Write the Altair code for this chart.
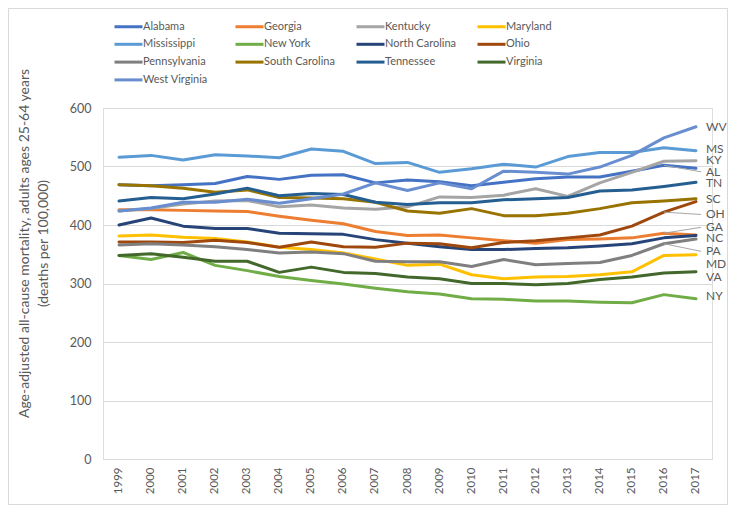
import altair as alt
import pandas as pd

years = list(range(1999, 2018))

states = ["Alabama", "Georgia", "Kentucky", "Maryland", "Mississippi", "New York",
          "North Carolina", "Ohio", "Pennsylvania", "South Carolina", "Tennessee",
          "Virginia", "West Virginia"]
abbrs = ["AL", "GA", "KY", "MD", "MS", "NY", "NC", "OH", "PA", "SC", "TN", "VA", "WV"]
colors = ["#4472C4", "#ED7D31", "#A5A5A5", "#FFC000", "#5B9BD5", "#70AD47",
          "#264478", "#9E480E", "#7F7F7F", "#997300", "#255E91", "#43682B", "#698ED0"]

alabama = [469, 467, 469, 471, 483, 478, 485, 486, 472, 477, 474, 467, 473, 479, 482, 482, 492, 502, 497]
georgia = [426, 426, 425, 424, 423, 415, 408, 402, 389, 382, 383, 378, 373, 369, 375, 376, 378, 386, 383]
kentucky = [424, 428, 436, 441, 442, 431, 434, 429, 427, 431, 448, 447, 451, 462, 449, 472, 490, 509, 510]
maryland = [381, 383, 379, 377, 371, 362, 358, 352, 342, 331, 333, 315, 308, 311, 312, 315, 320, 348, 349]
mississippi = [516, 519, 511, 520, 518, 515, 530, 526, 505, 507, 490, 496, 504, 499, 517, 524, 524, 532, 527]
new_york = [348, 341, 353, 331, 322, 312, 305, 299, 292, 286, 282, 274, 273, 270, 270, 268, 267, 281, 274]
north_carolina = [400, 412, 398, 394, 394, 386, 385, 384, 375, 369, 363, 358, 358, 360, 361, 364, 368, 378, 382]
ohio = [371, 371, 370, 374, 370, 362, 371, 363, 362, 369, 368, 361, 370, 373, 378, 383, 398, 422, 440]
pennsylvania = [366, 368, 366, 363, 358, 352, 354, 351, 338, 337, 337, 329, 341, 332, 334, 336, 348, 368, 376]
south_carolina = [469, 467, 463, 456, 460, 447, 446, 445, 439, 424, 420, 428, 416, 416, 420, 428, 438, 441, 445]
tennessee = [441, 447, 445, 453, 463, 450, 454, 452, 439, 435, 438, 438, 443, 445, 447, 458, 460, 466, 473]
virginia = [348, 351, 345, 338, 338, 319, 328, 319, 317, 311, 308, 300, 300, 298, 300, 307, 311, 318, 320]
west_virginia = [424, 429, 439, 439, 444, 437, 445, 453, 472, 459, 472, 462, 492, 490, 487, 499, 519, 549, 568]

series = [alabama, georgia, kentucky, maryland, mississippi, new_york, north_carolina,
          ohio, pennsylvania, south_carolina, tennessee, virginia, west_virginia]

# end-label positions (value units), as placed in the original
label_pos = [491, 396, 511, 334, 530, 278, 377, 418, 355, 444, 471, 311, 568]
# series whose end label has a leader line
leader_states = ["Alabama", "Georgia", "Ohio", "Pennsylvania"]

rows = []
for s, vals in zip(states, series):
    for yr, v in zip(years, vals):
        rows.append({"state": s, "year": yr, "value": v})
df = pd.DataFrame(rows)

lab_df = pd.DataFrame({"state": states, "abbr": abbrs, "pos": label_pos,
                       "year": [years[-1]] * len(states)})

lead_rows = []
for s in leader_states:
    i = states.index(s)
    lead_rows.append({"state": s, "x1": years[-2], "x2": years[-1],
                      "y1": series[i][-2], "y2": label_pos[i]})
lead_df = pd.DataFrame(lead_rows)

W, H = 609, 351
TXT = "#595959"

x_enc = alt.X("year:O", title=None,
              axis=alt.Axis(labelAngle=270, labelFontSize=11.5, labelColor=TXT,
                            ticks=False, labelPadding=8, domainColor="#D9D9D9",
                            grid=False))
y_enc = alt.Y("value:Q", scale=alt.Scale(domain=[0, 600]),
              axis=alt.Axis(values=[0, 100, 200, 300, 400, 500, 600],
                            title=["Age-adjusted all-cause mortality, adults ages 25-64 years",
                                   "(deaths per 100,000)"],
                            titleFontSize=14, titleColor=TXT, titleFontWeight="normal",
                            titleLineHeight=19, titleX=-79, titleY=135,
                            titleBaseline="middle", titleAngle=270,
                            labelFontSize=12.5, labelColor=TXT, labelPadding=12,
                            ticks=False, domain=False, gridColor="#D9D9D9"))

lines = alt.Chart(df).mark_line(strokeWidth=3, strokeJoin="round", strokeCap="round").encode(
    x=x_enc,
    y=y_enc,
    color=alt.Color("state:N", title=None,
                    scale=alt.Scale(domain=states, range=colors),
                    legend=alt.Legend(orient="none", legendX=10, legendY=-90, columns=4,
                                      direction="horizontal",
                                      symbolType="M-1,0H3", symbolStrokeWidth=3,
                                      symbolSize=196, labelFontSize=11, labelColor=TXT,
                                      labelOffset=13, columnPadding=14, rowPadding=2.8,
                                      gridAlign="all", padding=0)),
)

leaders = alt.Chart(lead_df).mark_rule(color="#A6A6A6", strokeWidth=1, x2Offset=5).encode(
    x=alt.X("x1:O"), x2="x2:O", y=alt.Y("y1:Q"), y2="y2:Q")

labels = alt.Chart(lab_df).mark_text(align="left", baseline="middle", dx=10,
                                     fontSize=12, color=TXT).encode(
    x=alt.X("year:O"), y=alt.Y("pos:Q"), text="abbr:N")

frame = alt.Chart(pd.DataFrame({"a": [0]})).mark_rect(
    filled=False, stroke="#D9D9D9", strokeWidth=1).encode(
    x=alt.value(-94.5), x2=alt.value(W + 15.5), y=alt.value(-99.5), y2=alt.value(H + 45.5))

chart = alt.layer(frame, lines, leaders, labels).properties(
    width=W, height=H,
    autosize=alt.AutoSizeParams(type="none"),
    padding={"left": 95, "right": 16, "top": 100, "bottom": 46},
    background="white",
).configure_view(stroke=None).configure(font="Lato")

chart.save("out.html", embed_options={"renderer": "svg", "actions": False})
